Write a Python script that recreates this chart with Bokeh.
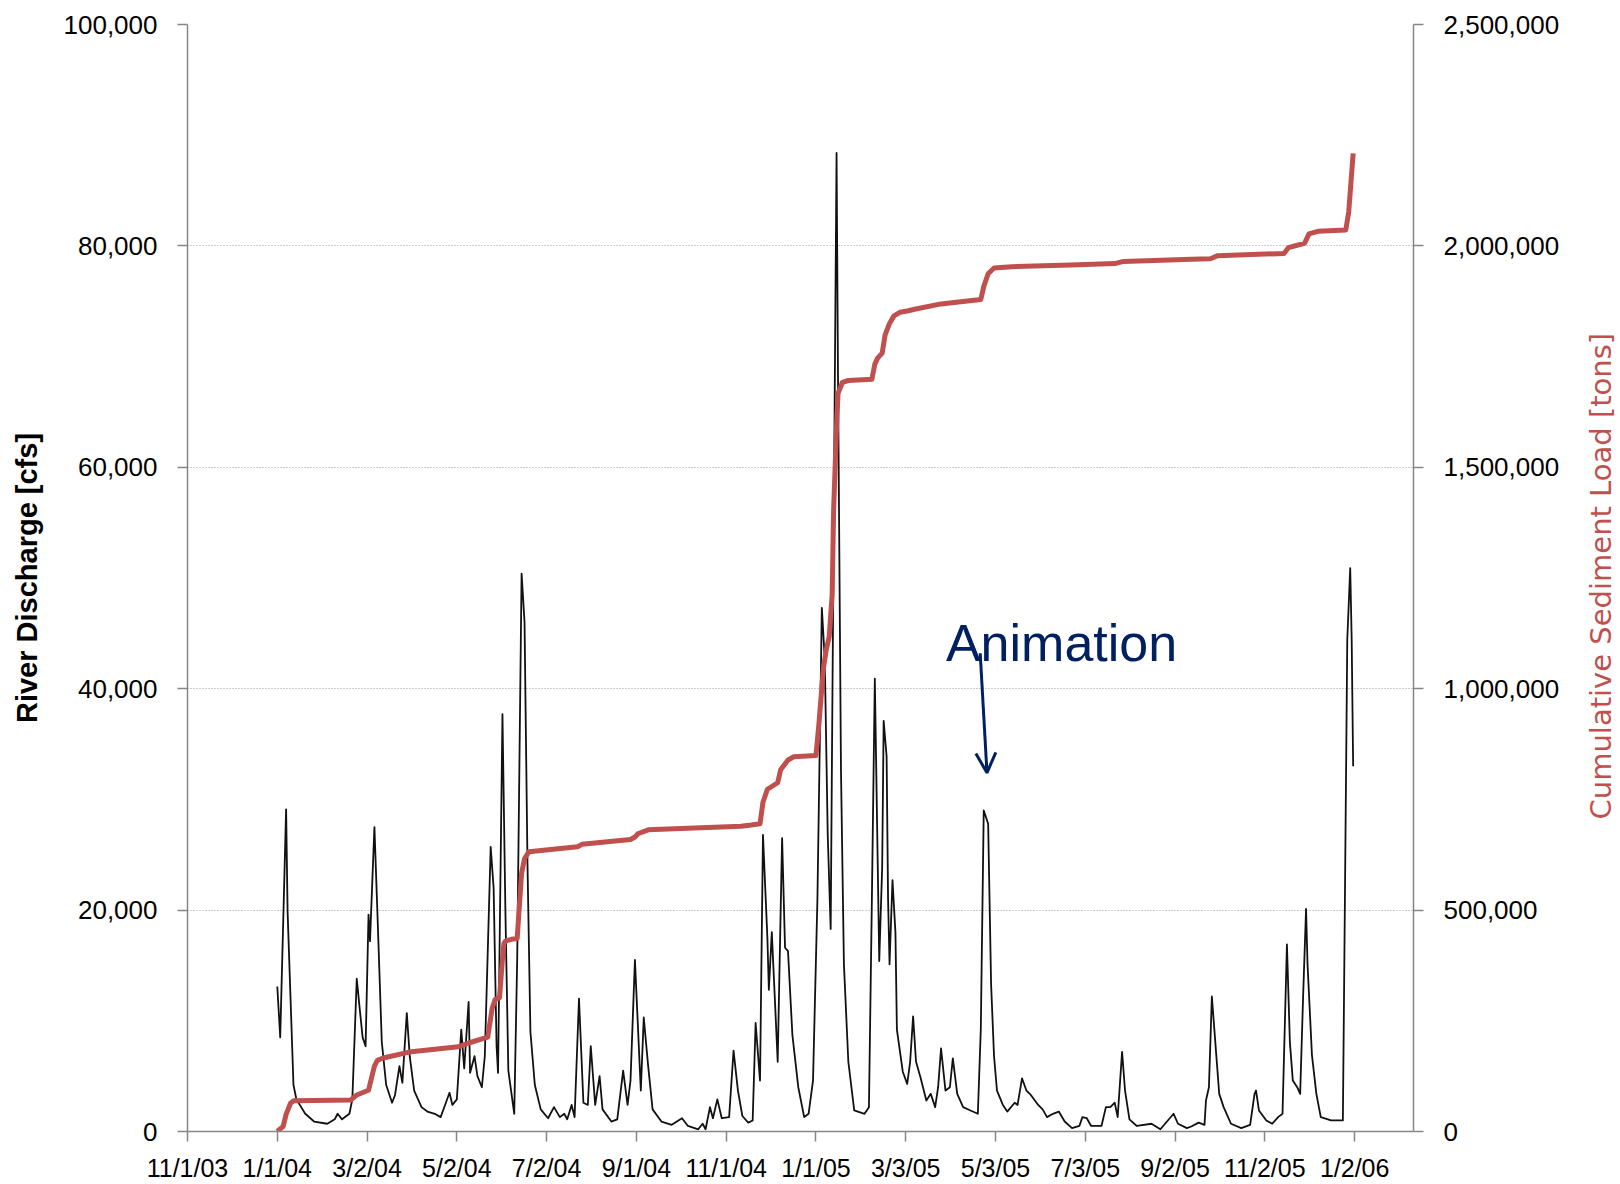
import pandas as pd
from datetime import datetime
from math import pi
from bokeh.plotting import figure
from bokeh.layouts import row
from bokeh.models import (Range1d, LinearAxis, FixedTicker, NumeralTickFormatter,
                          ColumnDataSource, Label, Arrow, OpenHead)
from bokeh.embed import file_html
from bokeh.resources import INLINE

# ---------------- data ----------------
base_date = "2003-11-01"  # day 0 of the day-offset arrays below

discharge_day = [61, 63, 67, 68, 72, 74, 80, 86, 95, 100, 102, 105, 110, 112, 115, 117, 119, 121,
                 123, 124, 127, 129, 132, 135, 139, 141, 144, 146, 149, 151, 154, 159, 163, 168,
                 172, 175, 178, 180, 183, 186, 188, 191, 192, 195, 197, 200, 202, 206, 208, 210,
                 211, 214, 216, 218, 222, 224, 227, 229, 231, 233, 236, 240, 245, 249, 253, 256,
                 258, 261, 263, 266, 269, 272, 274, 277, 280, 282, 288, 292, 296, 299, 301, 304,
                 308, 310, 313, 316, 322, 329, 336, 340, 347, 350, 352, 355, 357, 360, 363, 368,
                 371, 374, 377, 381, 384, 386, 389, 391, 394, 395, 397, 399, 401, 404, 406, 408,
                 411, 415, 419, 422, 425, 428, 431, 433, 435, 437, 441, 442, 444, 446, 449, 453,
                 460, 463, 465, 467, 469, 470, 472, 473, 475, 476, 477, 479, 481, 482, 486, 489,
                 491, 493, 495, 498, 502, 505, 508, 510, 512, 515, 518, 520, 523, 527, 532, 537,
                 539, 541, 544, 546, 548, 550, 554, 557, 562, 564, 567, 570, 573, 578, 581, 584,
                 588, 592, 596, 601, 606, 608, 611, 614, 621, 624, 627, 630, 632, 635, 637, 640,
                 645, 655, 661, 670, 673, 679, 682, 687, 691, 692, 694, 696, 699, 701, 704, 709,
                 716, 722, 725, 726, 728, 733, 737, 741, 744, 747, 749, 751, 754, 756, 758, 760,
                 761, 764, 767, 770, 777, 785, 786, 788, 790, 791, 792]
discharge_cfs = [13100, 8500, 29100, 19900, 4200, 2900, 1600, 900, 700, 1100, 1600, 1100, 1600, 2900,
                 13800, 11100, 8500, 7700, 19600, 17200, 27500, 19900, 8100, 4200, 2600, 3300, 5900,
                 4400, 10700, 6800, 3700, 2200, 1800, 1600, 1300, 2400, 3500, 2400, 2900, 9200, 5700,
                 11700, 5300, 6800, 5000, 4000, 6800, 25700, 22000, 7700, 5300, 37700, 19900, 5500,
                 1600, 15500, 50400, 46000, 24200, 9000, 4200, 2000, 1200, 2200, 1300, 1600, 1100,
                 2400, 1300, 12000, 2600, 2400, 7700, 2400, 5000, 2000, 900, 1100, 5500, 2400, 4600,
                 15500, 3700, 10300, 5900, 2000, 900, 600, 1200, 500, 200, 700, 200, 2200, 1200, 2900,
                 1200, 1300, 7300, 3700, 1400, 800, 1000, 9800, 4600, 26800, 17500, 12800, 18000,
                 12200, 6300, 26500, 16600, 16300, 8700, 4000, 1300, 1600, 4600, 21000, 47300, 42600,
                 26800, 18300, 88400, 67800, 32700, 15100, 6300, 1900, 1600, 2200, 21000, 40900,
                 23900, 15400, 23900, 37100, 33900, 21000, 15100, 22700, 18000, 9200, 5400, 4300,
                 6300, 10400, 6300, 4900, 2800, 3400, 2200, 4000, 7500, 3700, 4000, 6600, 3400, 2200,
                 1900, 1600, 9200, 29000, 27800, 13300, 6800, 3700, 2400, 1800, 2600, 2400, 4800,
                 3700, 3300, 2400, 2000, 1300, 1600, 1800, 900, 300, 500, 1300, 1200, 500, 500, 2200,
                 2200, 2600, 1300, 7200, 3700, 1100, 500, 700, 200, 1600, 700, 300, 450, 800, 600,
                 2800, 4000, 12200, 6900, 3400, 2200, 700, 300, 600, 3400, 3700, 1900, 1000, 700,
                 1300, 1600, 16900, 8100, 4600, 4000, 3400, 12200, 20100, 15100, 6900, 3400, 1300,
                 1000, 1000, 15100, 44400, 50900, 44400, 33000]

sediment_day = [61, 65, 67, 70, 72, 111, 115, 123, 125, 127, 129, 133, 152, 168, 184, 191, 204, 207,
                209, 212, 214, 215, 216, 220, 224, 227, 229, 232, 265, 268, 301, 304, 306, 313, 376,
                383, 389, 391, 394, 401, 403, 408, 412, 427, 429, 432, 434, 436, 438, 439, 441, 442,
                445, 449, 465, 467, 469, 472, 474, 477, 480, 484, 489, 494, 512, 539, 541, 544, 548,
                560, 600, 630, 636, 682, 695, 700, 745, 748, 759, 762, 768, 787, 789, 792]
sediment_tons = [0, 11500, 38700, 63800, 69300, 71400, 82300, 93200, 120400, 147600, 160700, 166000,
                 180300, 185700, 191200, 199900, 213000, 278300, 297900, 302000, 390000, 425000,
                 430000, 434000, 436000, 583000, 616000, 632000, 643000, 648500, 659500, 665000,
                 672500, 681300, 689600, 692000, 695000, 743700, 772900, 787600, 816900, 838900,
                 846300, 849200, 919500, 1044000, 1088000, 1117000, 1212000, 1403000, 1593000,
                 1667000, 1692000, 1696000, 1699000, 1733000, 1747000, 1758000, 1799000, 1825000,
                 1842000, 1850000, 1853000, 1857000, 1869000, 1879000, 1908000, 1937000, 1950000,
                 1953000, 1957000, 1960000, 1965000, 1970000, 1971000, 1978000, 1983000, 1996000,
                 2006000, 2027000, 2033000, 2036000, 2077000, 2209000]

x_tick_labels = ["11/1/03", "1/1/04", "3/2/04", "5/2/04", "7/2/04", "9/1/04", "11/1/04",
                 "1/1/05", "3/3/05", "5/3/05", "7/3/05", "9/2/05", "11/2/05", "1/2/06"]
left_ticks = [0, 20000, 40000, 60000, 80000, 100000]
right_ticks = [0, 500000, 1000000, 1500000, 2000000, 2500000]

left_title = "River Discharge [cfs]"
right_title = "Cumulative Sediment Load [tons]"

# ---------------- helpers ----------------
base = pd.Timestamp(base_date)


def ms_of_day(d):
    return (base + pd.Timedelta(days=d)).value / 1e6


def ms_of_label(s):
    return int(pd.Timestamp(datetime.strptime(s, "%m/%d/%y")).value // 10**6)


dis_src = ColumnDataSource(dict(x=[ms_of_day(d) for d in discharge_day], y=discharge_cfs))
sed_src = ColumnDataSource(dict(x=[ms_of_day(d) for d in sediment_day], y=sediment_tons))
tick_ms = [ms_of_label(s) for s in x_tick_labels]

AXIS_GRAY = "#868686"
RED = "#C0504D"
NAVY = "#002060"

MAIN_W, TITLE_W, H = 1585, 35, 1184

p = figure(width=MAIN_W, height=H, x_axis_type="datetime",
           x_range=Range1d(ms_of_day(0), ms_of_day(833)), y_range=Range1d(0, 100000),
           output_backend="svg", toolbar_location=None,
           min_border_left=187, min_border_right=MAIN_W - 187 - 1226,
           min_border_top=24, min_border_bottom=52)
p.outline_line_color = None
p.background_fill_color = "white"
p.extra_y_ranges = {"sed": Range1d(0, 2500000)}

# grid
left_ticker = FixedTicker(ticks=left_ticks, minor_ticks=[])
p.ygrid.ticker = left_ticker
p.ygrid.grid_line_color = "#9a9a9a"
p.ygrid.grid_line_dash = "1 2"
p.ygrid.grid_line_width = 1
p.xgrid.grid_line_color = None

# series
p.line("x", "y", source=dis_src, line_color="#111111", line_width=1.8, line_join="round")
p.line("x", "y", source=sed_src, y_range_name="sed", line_color=RED, line_width=5,
       line_join="round")

# axes
right_axis = LinearAxis(y_range_name="sed",
                        ticker=FixedTicker(ticks=right_ticks, minor_ticks=[]),
                        formatter=NumeralTickFormatter(format="0,0"))
p.add_layout(right_axis, "right")

yl = p.yaxis[0]
yl.ticker = left_ticker
yl.formatter = NumeralTickFormatter(format="0,0")

xb = p.xaxis[0]
xb.ticker = FixedTicker(ticks=tick_ms, minor_ticks=[])
xb.major_label_overrides = {t: lab for t, lab in zip(tick_ms, x_tick_labels)}

for ax in (yl, right_axis, xb):
    ax.axis_line_color = AXIS_GRAY
    ax.axis_line_width = 1.5
    ax.major_tick_line_color = AXIS_GRAY
    ax.major_tick_line_width = 1.5
    ax.major_tick_out = 10
    ax.major_tick_in = 0
    ax.minor_tick_line_color = None
    ax.major_label_text_font = "Liberation Sans"
    ax.major_label_text_color = "black"

yl.major_label_text_font_size = "26px"
yl.major_label_standoff = 20
yl.axis_label = left_title
yl.axis_label_text_font = "Liberation Sans"
yl.axis_label_text_font_style = "bold"
yl.axis_label_text_font_size = "29px"
yl.axis_label_text_color = "black"
yl.axis_label_standoff = 18

right_axis.major_label_text_font_size = "26px"
right_axis.major_label_standoff = 20

xb.major_label_text_font_size = "25px"
xb.major_label_standoff = 12

# annotation
p.add_layout(Label(x=ms_of_day(515.3), y=44100, text="Animation",
                   text_font="Liberation Sans", text_font_size="52px", text_color=NAVY,
                   text_align="left", text_baseline="alphabetic"))
p.add_layout(Arrow(x_start=ms_of_day(538.6), y_start=43200, x_end=ms_of_day(543.2), y_end=32400,
                   line_color=NAVY, line_width=3,
                   end=OpenHead(size=20, line_color=NAVY, line_width=3)))

# right-hand axis title, reading bottom-to-top, in a narrow strip beside the chart
t = figure(width=TITLE_W, height=H, x_range=Range1d(0, 1), y_range=Range1d(0, 1),
           output_backend="svg", toolbar_location=None,
           x_axis_location=None, y_axis_location=None,
           min_border_left=0, min_border_right=0, min_border_top=0, min_border_bottom=0)
t.outline_line_color = None
t.xgrid.visible = False
t.ygrid.visible = False
t.add_layout(Label(x=0.45, y=(H - 590) / H, text=right_title, angle=pi / 2, angle_units="rad",
                   text_align="center", text_baseline="middle",
                   text_font="DejaVu Sans", text_font_size="29px", text_color=RED))

layout = row(p, t, spacing=0)
open("out.html", "w").write(file_html(layout, INLINE))
